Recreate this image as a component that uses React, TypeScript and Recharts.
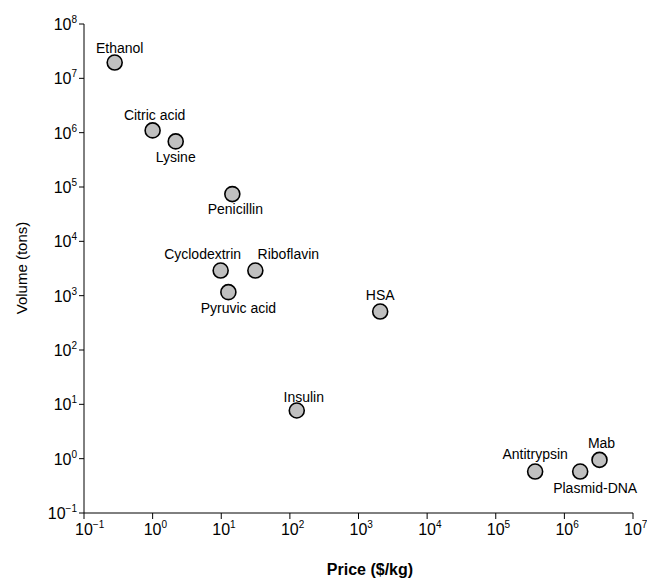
import { ScatterChart, Scatter, XAxis, YAxis } from 'recharts';

const names = [
  'Ethanol', 'Citric acid', 'Lysine', 'Penicillin', 'Cyclodextrin', 'Riboflavin',
  'Pyruvic acid', 'HSA', 'Insulin', 'Antitrypsin', 'Plasmid-DNA', 'Mab',
];
const prices = [0.28, 1.0, 2.17, 14.5, 9.8, 31.4, 12.7, 2070, 126, 375000, 1700000, 3250000];
const volumes = [19500000, 1100000, 690000, 74000, 2900, 2900, 1160, 510, 7.7, 0.58, 0.58, 0.95];

const xTicks = [0.1, 1, 10, 100, 1000, 1e4, 1e5, 1e6, 1e7];
const yTicks = [0.1, 1, 10, 100, 1000, 1e4, 1e5, 1e6, 1e7, 1e8];

const data = names.map((name, i) => ({ name, price: prices[i], volume: volumes[i] }));

// where each label sits relative to its marker
const labelOffset: Record<string, [number, number]> = {
  'Ethanol': [5, -10],
  'Citric acid': [2, -10],
  'Lysine': [0, 21],
  'Penicillin': [3, 20],
  'Cyclodextrin': [-18, -12],
  'Riboflavin': [33, -12],
  'Pyruvic acid': [10, 21],
  'HSA': [0, -12],
  'Insulin': [7, -9],
  'Antitrypsin': [0, -13],
  'Plasmid-DNA': [15, 21],
  'Mab': [2, -12],
};

const font = 'Liberation Sans, Arial, sans-serif';

const exp = (v: number) => {
  const e = Math.round(Math.log10(v));
  return e < 0 ? '\u2212' + Math.abs(e) : String(e);
};

const XTick = ({ x, y, payload }: any) => (
  <text x={x - 9} y={y + 14} fontSize={16} fontFamily={font} fill="#000">
    10<tspan dy={-7} fontSize={10}>{exp(payload.value)}</tspan>
  </text>
);

const YTick = ({ x, y, payload }: any) => (
  <text x={x} y={y + 6} fontSize={16} fontFamily={font} fill="#000" textAnchor="end">
    10<tspan dy={-7} fontSize={10}>{exp(payload.value)}</tspan>
  </text>
);

const Marker = ({ cx, cy, payload }: any) => {
  const [dx, dy] = labelOffset[payload.name] || [0, -12];
  return (
    <g>
      <circle cx={cx} cy={cy} r={7.5} fill="#c0c0c0" stroke="#000" strokeWidth={1.6} />
      <text x={cx + dx} y={cy + dy} textAnchor="middle" fontSize={14} fontFamily={font} fill="#000">
        {payload.name}
      </text>
    </g>
  );
};

export default function App() {
  return (
    <div style={{ position: 'absolute', left: 0, top: 0, background: '#fff' }}>
      <ScatterChart width={647} height={580} margin={{ top: 24, right: 14, bottom: 22, left: 24 }}>
        <XAxis
          type="number"
          dataKey="price"
          scale="log"
          domain={[0.1, 1e7]}
          ticks={xTicks}
          interval={0}
          height={45}
          tickSize={6}
          tick={<XTick />}
          axisLine={{ stroke: '#000' }}
          tickLine={{ stroke: '#000' }}
        />
        <YAxis
          type="number"
          dataKey="volume"
          scale="log"
          domain={[0.1, 1e8]}
          ticks={yTicks}
          interval={0}
          width={60}
          tickSize={5}
          tick={<YTick />}
          axisLine={{ stroke: '#000' }}
          tickLine={{ stroke: '#000' }}
        />
        <Scatter data={data} shape={<Marker />} isAnimationActive={false} />
        <text x={370} y={575} textAnchor="middle" fontSize={16} fontWeight="bold" fontFamily={font} fill="#000">
          Price ($/kg)
        </text>
        <text
          x={0}
          y={0}
          transform="translate(27,268) rotate(-90)"
          textAnchor="middle"
          fontSize={15}
          fontFamily={font}
          fill="#000"
        >
          Volume (tons)
        </text>
      </ScatterChart>
    </div>
  );
}
